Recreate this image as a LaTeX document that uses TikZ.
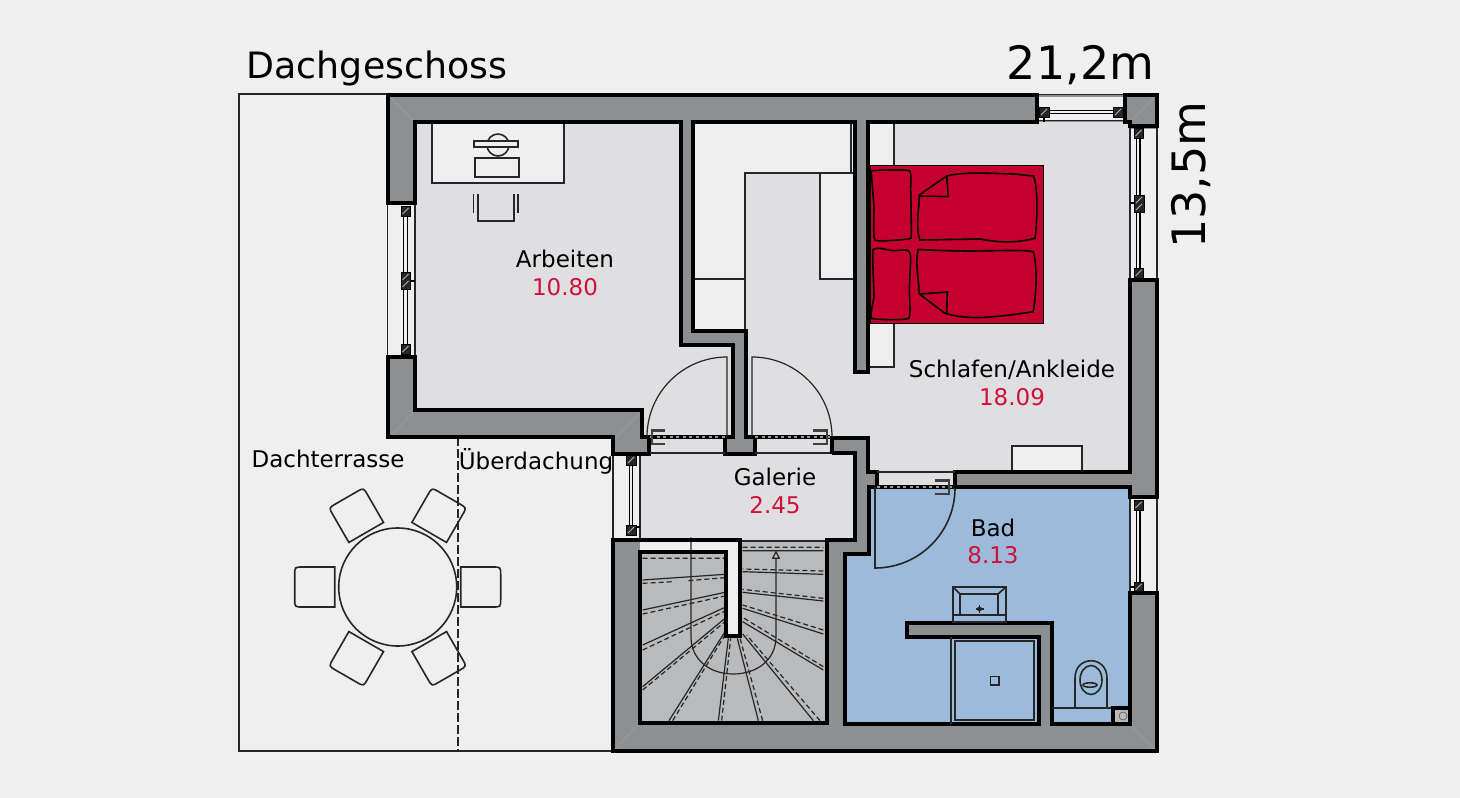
\documentclass[tikz,border=0pt]{standalone}
\usepackage{fontspec}
\setmainfont{DejaVu Sans}
\definecolor{bgc}{HTML}{EFEFF0}
\definecolor{wallc}{HTML}{8E8F91}
\definecolor{roomc}{HTML}{DFDFE1}
\definecolor{stairc}{HTML}{B9BABC}
\definecolor{bathc}{HTML}{9CBBDA}
\definecolor{bedc}{HTML}{C6002E}
\definecolor{numc}{HTML}{D0103A}
\definecolor{mitre}{HTML}{9A9B9D}
\tikzset{
  wall/.style={draw=black,line width=4pt,miter limit=10},
  thin line/.style={draw=black!85,line width=1.2pt},
  med line/.style={draw=black!85,line width=1.6pt},
  frame line/.style={draw=black!85,line width=1.6pt},
  glass/.style={draw=black,line width=1.3pt,fill=bgc},
  post/.style={fill=black!85,draw=black,line width=.6pt},
  hatch/.style={draw=white!70!black,line width=.8pt},
  label/.style={anchor=base,inner sep=0pt,text=black,font=\fontsize{23}{25}\selectfont},
  area/.style={anchor=base,inner sep=0pt,text=numc,font=\fontsize{23}{25}\selectfont},
  big/.style={anchor=base,inner sep=0pt,text=black,font=\fontsize{36.3}{40}\selectfont},
  huge label/.style={anchor=base,inner sep=0pt,text=black,font=\fontsize{46}{50}\selectfont},
  handle/.style={draw=black!75,line width=2.2pt},
  tread/.style={draw=black!85,line width=1.2pt},
  nosing/.style={draw=black!85,line width=1.2pt,dash pattern=on 5pt off 3pt},
  bedline/.style={draw=black,line width=1.6pt},
}
\begin{document}
\begin{tikzpicture}[x=1pt,y=-1pt]
\useasboundingbox (0,0) rectangle (1460,798);
\fill[bgc] (0,0) rectangle (1460,798);
% terrace
\draw[line width=2pt,draw=black!85] (389,94) -- (239,94) -- (239,751) -- (613,751);
\draw[line width=1.4pt,draw=black!85,dash pattern=on 9pt off 3pt] (458,437) -- (458,751);
% building mass
\fill[wallc] (388,95) -- (1157,95) -- (1157,751) -- (613,751) -- (613,437) -- (388,437) -- cycle;
\draw[mitre,line width=.8pt] (390,97) -- (415,122) (392,435) -- (415,410) (615,749) -- (640,723) (1155,749) -- (1130,724) (1155,97) -- (1130,122) (615,439) -- (642,412);
% rooms
\fill[roomc] (415,122) -- (681,122) -- (681,345) -- (733,345) -- (733,437) -- (642,437) -- (642,410) -- (415,410) -- cycle;
\fill[roomc] (693,122) -- (855,122) -- (855,372) -- (868,372) -- (868,122) -- (1130,122) -- (1130,472) -- (955,472) -- (955,487) -- (877,487) -- (877,472) -- (868,472) -- (868,438) -- (746,438) -- (746,331) -- (693,331) -- cycle;
\fill[roomc] (640,453) -- (648,453) -- (648,438) -- (725,438) -- (725,453) -- (755,453) -- (755,438) -- (832,438) -- (832,453) -- (855,453) -- (855,540) -- (640,540) -- cycle;
\fill[bathc] (870,487) -- (1130,487) -- (1130,724) -- (1052,724) -- (1052,623) -- (907,623) -- (907,637) -- (1039,637) -- (1039,724) -- (845,724) -- (845,554) -- (870,554) -- cycle;
\fill[stairc] (640,552) -- (726,552) -- (726,636) -- (740,636) -- (740,540) -- (827,540) -- (827,723) -- (640,723) -- cycle;
\fill[bgc] (640,540) -- (740,540) -- (740,636) -- (726,636) -- (726,552) -- (640,552) -- cycle;
% light built-ins of the upper floor
\fill[bgc] (693,122) -- (855,122) -- (855,173) -- (745,173) -- (745,331) -- (693,331) -- cycle;
\fill[bgc] (820,173) rectangle (855,279);
\fill[bgc] (868,122) rectangle (894,165);
\fill[bgc] (868,323) rectangle (894,367);
\fill[bgc] (1012,446) rectangle (1082,472);
\draw[thin line] (851,122) -- (851,173) (745,331) -- (745,173) -- (855,173) (693,279) -- (745,279) (820,173) -- (820,279) -- (855,279);
\draw[thin line] (894,122) -- (894,165) (894,323) -- (894,367) -- (868,367);
\draw[thin line] (1012,472) -- (1012,446) -- (1082,446) -- (1082,472);
% desk
\draw[thin line,fill=bgc] (432,122) rectangle (564,183);
\draw[med line] (498,145) circle (11);
\draw[med line,fill=bgc] (474,141) rectangle (518,147);
\draw[med line,fill=bgc] (475,158) rectangle (519,177);
\draw[med line] (478,194) -- (478,221) -- (514,221) -- (514,194) (473.5,194) -- (473.5,213) (518,194) -- (518,213);
% bed
\draw[draw=black,line width=1pt,fill=bedc] (870,165) rectangle (1043,323);
\begin{scope}[shift={(680pt,-90pt)},x=.33333pt,y=-.33333pt]
\draw[bedline] plot[smooth cycle,tension=.25] coordinates {(578,242) (688,242) (692,300) (694,435) (685,447) (585,450) (582,350) (575,260)};
\draw[bedline] plot[smooth cycle,tension=.25] coordinates {(580,478) (600,475) (640,482) (680,480) (692,495) (688,600) (686,685) (575,685) (582,620) (580,560) (578,500)};
\draw[bedline] (718,315) -- (800,258) .. controls (850,245) and (920,250) .. (1000,252) -- (1060,258) .. controls (1075,290) and (1072,400) .. (1065,445) .. controls (1020,455) and (980,462) .. (900,447) -- (720,450) .. controls (705,410) and (718,360) .. (718,315) -- cycle;
\draw[bedline] (800,258) -- (805,320) -- (718,318);
\draw[bedline] (718,612) -- (795,670) .. controls (850,685) and (900,690) .. (1060,665) .. controls (1070,600) and (1072,530) .. (1060,485) .. controls (1000,475) and (900,490) .. (715,478) .. controls (705,510) and (715,560) .. (718,612) -- cycle;
\draw[bedline] (718,612) -- (802,606) -- (800,670);
\end{scope}
% windows
\fill[bgc] (388,205) rectangle (415,355);
\fill[bgc] (613,455) rectangle (640,538);
\fill[bgc] (1039,97) rectangle (1123,120);
\fill[bgc] (1130,129) rectangle (1157,278);
\fill[bgc] (1130,499) rectangle (1157,591);
\draw[frame line] (387.5,203) -- (387.5,357) (415,203) -- (415,357);
\draw[frame line] (613,453) -- (613,540) (640,453) -- (640,540);
\draw[frame line] (1037,94.5) -- (1125,94.5) (1037,120.5) -- (1125,120.5);
\draw[frame line] (1130,127) -- (1130,280) (1157,127) -- (1157,280);
\draw[frame line] (1130,497) -- (1130,593) (1157,497) -- (1157,593);
% mullions
\draw[glass] (403.5,211) rectangle (407.5,349);
\draw[glass] (629.5,460) rectangle (632.5,530);
\draw[glass] (1044,110.5) rectangle (1118,113.5);
\draw[glass] (1136.5,133) rectangle (1140,272);
\draw[glass] (1136.5,505) rectangle (1140,587);
\draw[line width=1.5pt,black] (410,281) -- (415,281) (636,527) -- (640,527) (1044,117) -- (1044,122) (1130,203) -- (1134,203) (1130,587) -- (1134,587);
\fill[post] (401,206) rectangle (410,216) (401,272) rectangle (410,289) (401,344) rectangle (410,354);
\fill[post] (626,455) rectangle (636,465) (626,525) rectangle (636,535);
\fill[post] (1039,107) rectangle (1049,117) (1113,107) rectangle (1123,117);
\fill[post] (1134,128) rectangle (1143,138) (1134,195) rectangle (1144,212) (1134,268) rectangle (1143,278);
\fill[post] (1134,500) rectangle (1143,510) (1134,582) rectangle (1143,592);
\foreach \px/\py in {405.5/211,405.5/277,405.5/284,405.5/349,631/460,631/530,1044/112,1118/112,1138.5/133,1139/200,1139/207,1138.5/273,1138.5/505,1138.5/587}{
  \draw[hatch] (\px-3,\py+3) -- (\px+3,\py-3);
}
% stairs
\draw[thin line] (740,541) -- (827,541);
\begin{scope}[shift={(600pt,-530pt)},x=.33333pt,y=-.33333pt]
\draw[tread] (128,150) -- (375,133) (128,240) -- (375,187) (128,345) -- (375,232) (128,470) -- (375,265) (207,572) -- (375,305) (355,572) -- (385,325) (475,572) -- (412,325) (640,572) -- (428,312) (670,420) -- (428,275) (670,312) -- (428,235) (670,213) -- (428,187) (670,133) -- (428,125) (428,62) -- (670,62);
\draw[nosing] (128,85) -- (375,85) (128,160) -- (220,155) (265,152) -- (375,143) (128,252) -- (375,198) (128,360) -- (375,243) (128,480) -- (375,275) (218,572) -- (375,315) (365,572) -- (392,325) (488,572) -- (420,325) (660,572) -- (440,315) (670,410) -- (428,262) (670,300) -- (428,225) (670,205) -- (428,178) (670,123) -- (428,117) (428,52) -- (670,52);
\draw[tread] (273,22) -- (273,320) .. controls (273,390) and (330,432) .. (400,432) .. controls (470,432) and (528,390) .. (528,320) -- (528,85);
\draw[tread] (518,85) -- (528,65) -- (538,85) -- cycle;
\end{scope}
% walls
\draw[wall] (388,95) -- (1037,95) -- (1037,122) -- (868,122) -- (868,372) -- (855,372) -- (855,122) -- (693,122) -- (693,331) -- (746,331) -- (746,437) -- (755,437) -- (755,454) -- (725,454) -- (725,437) -- (733,437) -- (733,345) -- (681,345) -- (681,122) -- (415,122) -- (415,203) -- (388,203) -- cycle;
\draw[wall] (388,357) -- (415,357) -- (415,410) -- (642,410) -- (642,437) -- (649,437) -- (649,454) -- (613,454) -- (613,437) -- (388,437) -- cycle;
\draw[wall] (832,454) -- (832,438) -- (868,438) -- (868,472) -- (877,472) -- (877,487) -- (869,487) -- (869,554) -- (845,554) -- (845,724) -- (1039,724) -- (1039,637) -- (907,637) -- (907,623) -- (1052,623) -- (1052,724) -- (1130,724) -- (1130,593) -- (1157,593) -- (1157,751) -- (613,751) -- (613,540) -- (740,540) -- (740,636) -- (726,636) -- (726,552) -- (640,552) -- (640,723) -- (827,723) -- (827,540) -- (855,540) -- (855,453) -- (832,453);
\draw[wall] (955,472) -- (955,487) -- (1130,487) -- (1130,497) -- (1157,497) -- (1157,280) -- (1130,280) -- (1130,472) -- cycle;
\draw[wall] (1125,95) -- (1157,95) -- (1157,126) -- (1130,126) -- (1130,122) -- (1125,122) -- cycle;
% door sills
\foreach \xa/\xb/\yy in {650/727/437, 755/830/437, 877/953/487}{
  \draw[black,line width=4.5pt] (\xa,\yy) -- (\xb,\yy);
  \draw[white!60!black,line width=1.1pt,dash pattern=on 3pt off 3.5pt] (\xa,\yy) -- (\xb,\yy);
}
\draw[thin line] (650,453) -- (725,453) (755,453) -- (830,453) (877,472) -- (955,472);
% doors
\draw[thin line] (727,437) -- (727,357) arc (-90:-180:80);
\draw[thin line] (752,437) -- (752,357) arc (-90:0:80);
\draw[med line] (875,487) -- (875,568) arc (90:0:80);
\draw[handle] (665,430.5) -- (652,430.5) -- (652,444) -- (665,444);
\draw[handle] (813,430.5) -- (827,430.5) -- (827,444) -- (813,444);
\draw[handle] (935,480.5) -- (949,480.5) -- (949,494) -- (935,494);
% basin
\draw[line width=1.8pt,draw=black!85] (953,587) rectangle (1006,622);
\draw[med line] (960,594) rectangle (998,615);
\draw[med line] (953,615) -- (1006,615) (953,587) -- (960,594) (1006,587) -- (998,594);
\draw[med line] (979.5,605) -- (979.5,613) (975.5,609) -- (983.5,609);
\fill[black!85] (979.5,609) circle (2.4);
% shower
\draw[med line] (951,637) -- (951,724);
\draw[med line] (955,641) rectangle (1034,720);
\draw[med line] (990.5,676.5) rectangle (999,685);
% wc
\draw[med line] (1052,708) -- (1111,708);
\draw[med line] (1075,708) -- (1075,678) .. controls (1075,655) and (1107,655) .. (1107,678) -- (1107,708);
\draw[med line] (1091,680) ellipse (11 and 14.5);
\draw[med line] (1090,685) ellipse (7 and 2.2);
\fill[black] (1111,706) rectangle (1132,726);
\fill[stairc] (1115,710) rectangle (1128,722);
\draw[line width=.8pt,draw=black!60] (1123,716) circle (4);
% table and chairs
\draw[med line] (397.7,587) circle (59);
\foreach \a in {0,60,120,180,240,300}{
  \begin{scope}[shift={(397.7pt,-587pt)},rotate=\a]
    \draw[med line] (63,-20) -- (95,-20) .. controls (103,-20) and (103,-20) .. (103,-12) -- (103,12) .. controls (103,20) and (103,20) .. (95,20) -- (63,20) -- cycle;
  \end{scope}
}
% labels
\node[big] (title) at (377,78.5) {Dachgeschoss};
\node[huge label] (width) at (1080.5,79) {21,2m};
\node[huge label,rotate=90] (depth) at (1205,175) {13,5m};
\node[label] (arb) at (565,267) {Arbeiten};
\node[area] (arbn) at (565,295) {10.80};
\node[label] (sch) at (1012,377) {Schlafen/Ankleide};
\node[area] (schn) at (1012,405) {18.09};
\node[label] (gal) at (775,485) {Galerie};
\node[area] (galn) at (775,513) {2.45};
\node[label] (bad) at (993,536) {Bad};
\node[area] (badn) at (993,563) {8.13};
\node[label] (ter) at (328,467) {Dachterrasse};
\node[label] (ueb) at (536,469) {Überdachung};
\end{tikzpicture}
\end{document}
